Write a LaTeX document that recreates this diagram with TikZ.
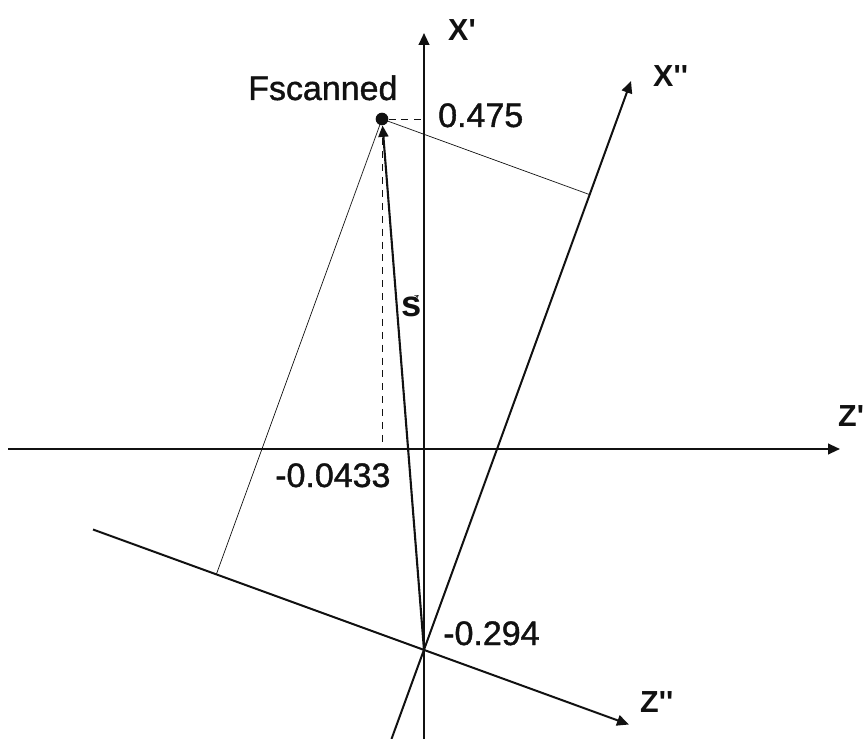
\documentclass[tikz,border=0pt]{standalone}
\usepackage{fontspec}
\setmainfont{Liberation Sans}[Ligatures=TeXOff]
\newfontfamily\heavysans{Liberation Sans}[Ligatures=TeXOff,FakeBold=1.2]
\usetikzlibrary{arrows.meta,calc}
\definecolor{ink}{HTML}{111111}
\tikzset{
  axis/.style={ink,line width=1.7pt,-{Triangle[length=3.6mm,width=3.2mm]}},
  vecline/.style={ink,line width=1.8pt,-{Triangle[length=3.4mm,width=3mm]}},
  proj/.style={ink,line width=0.6pt},
  guide/.style={ink,line width=0.6pt,dash pattern=on 6pt off 5pt},
  lbl/.style={ink,inner sep=0pt,anchor=base west,font=\fontsize{29}{34}\selectfont\heavysans},
  axlbl/.style={ink,inner sep=0pt,anchor=base west,font=\fontsize{26}{30}\selectfont\bfseries},
}

\begin{document}
\begin{tikzpicture}[x=0.03cm,y=-0.03cm]
\useasboundingbox (0,0) rectangle (863,739);
% primed and double-primed frames
\coordinate (O) at (424,449);
\coordinate (O2) at (424,650);
\coordinate (zL) at (8,449);
\coordinate (zR) at (840,449);
\coordinate (xB) at (424,739);
\coordinate (xT) at (424,33);
\coordinate (xxB) at (391.5,739);
\coordinate (xxT) at (631,81);
\coordinate (zzL) at (93,529.5);
\coordinate (zzR) at (629,724.5);
\node[circle,fill=ink,inner sep=0pt,minimum size=0.38cm] (F) at (382,119) {};
\coordinate (Fx) at ($(xB)!(F.center)!(xT)$);
\coordinate (Fz) at ($(zL)!(F.center)!(zR)$);
\coordinate (Fxx) at ($(xxB)!(F.center)!(xxT)$);
\coordinate (Fzz) at ($(zzL)!(F.center)!(zzR)$);

\draw[axis] (zL) -- (zR);
\draw[axis] (xB) -- (xT);
\draw[axis] (xxB) -- (xxT);
\draw[axis] (zzL) -- (zzR);
\draw[proj] (F.center) -- (Fxx);
\draw[proj] (F.center) -- (Fzz);
\draw[guide] (F) -- (Fx);
\draw[guide] (F) -- (Fz);
\draw[vecline] (O2) -- (F);

\node[lbl] (fsc) at (248,100) {Fscanned};
\node[lbl] (vx) at (438,127) {0.475};
\node[lbl] (vz) at (275,487) {-0.0433};
\node[lbl] (vo) at (443,645) {-0.294};
\node[lbl,font=\fontsize{31}{36}\selectfont\bfseries] (ls) at (401,317) {s};
\coordinate (lsa) at ($(ls.north east)+(-9,2)$);
\draw[ink,line width=0.5pt,-{Straight Barb[length=1mm,width=1.2mm]}] (lsa) -- ++(6,-4);
\node[axlbl] (lx1) at (448,41) {X'};
\node[axlbl] (lx2) at (653,87) {X''};
\node[axlbl] (lz1) at (838,427) {Z'};
\node[axlbl] (lz2) at (640,712) {Z''};
\end{tikzpicture}
\end{document}
